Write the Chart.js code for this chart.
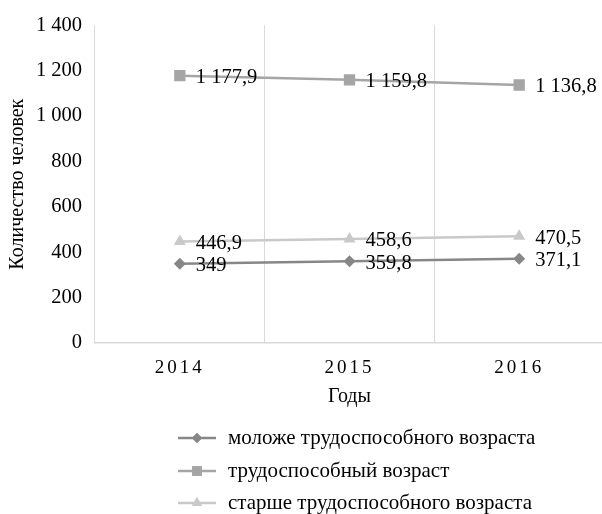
<!DOCTYPE html>
<html>
<head>
<meta charset="utf-8">
<script src="https://cdn.jsdelivr.net/npm/chart.js@4"></script>
<style>
  html, body { margin: 0; padding: 0; background: #fff; overflow: hidden; width: 602px; height: 514px; }
  #wrap { width: 612px; height: 514px; }
</style>
</head>
<body>
<div id="wrap"><canvas id="chart"></canvas></div>
<script>
const years = ['2014', '2015', '2016'];
const seriesNames = ['моложе трудоспособного возраста', 'трудоспособный возраст', 'старше трудоспособного возраста'];
const youngValues = [349, 359.8, 371.1];
const workingValues = [1177.9, 1159.8, 1136.8];
const olderValues = [446.9, 458.6, 470.5];
const yTicks = [0, 200, 400, 600, 800, 1000, 1200, 1400];

const FONT = '"Liberation Serif", "Times New Roman", serif';

// number format: "1 177,9"
function fmt(v) {
    const parts = String(v).split('.');
    const int = parts[0].replace(/\B(?=(\d{3})+(?!\d))/g, ' ');
    return parts.length > 1 ? int + ',' + parts[1] : int;
}

// data labels to the right of each point
const dataLabels = {
    id: 'dataLabels',
    afterDatasetsDraw(chart) {
        const ctx = chart.ctx;
        ctx.save();
        ctx.font = '20.5px ' + FONT;
        ctx.fillStyle = '#000';
        ctx.textAlign = 'left';
        ctx.textBaseline = 'middle';
        chart.data.datasets.forEach((ds, i) => {
            chart.getDatasetMeta(i).data.forEach((pt, j) => {
                ctx.fillText(fmt(ds.data[j]), pt.x + 16, pt.y + 2);
            });
        });
        ctx.restore();
    }
};

// legend at the bottom: line + marker, one per row
const bottomLegend = {
    id: 'bottomLegend',
    afterDraw(chart) {
        const ctx = chart.ctx;
        const rows = [438, 471, 503];
        ctx.save();
        chart.data.datasets.forEach((ds, i) => {
            const y = rows[i];
            ctx.strokeStyle = ds.borderColor;
            ctx.lineWidth = ds.borderWidth;
            ctx.beginPath();
            ctx.moveTo(178, y);
            ctx.lineTo(216, y);
            ctx.stroke();
            ctx.fillStyle = ds.pointBackgroundColor;
            Chart.helpers.drawPoint(ctx, {
                pointStyle: ds.pointStyle, radius: ds.pointRadius * 0.85, rotation: 0, borderWidth: 0
            }, 197, y);
            ctx.fill();
            ctx.fillStyle = '#000';
            ctx.font = '21px ' + FONT;
            ctx.textAlign = 'left';
            ctx.textBaseline = 'middle';
            ctx.fillText(ds.label, 228, y);
        });
        ctx.restore();
    }
};

// spaced-out year labels
const spacedTicks = {
    id: 'spacedTicks',
    afterLayout(chart) {
        const sc = chart.scales.x;
        if (sc._spaced) return;
        const orig = sc.drawLabels;
        sc.drawLabels = function (area) {
            this.ctx.save();
            this.ctx.letterSpacing = '3px';
            orig.call(this, area);
            this.ctx.restore();
        };
        sc._spaced = true;
    }
};

new Chart(document.getElementById('chart'), {
    type: 'line',
    data: {
        labels: years,
        datasets: [
            {
                label: seriesNames[0], data: youngValues,
                borderColor: '#878787', backgroundColor: '#878787', pointBackgroundColor: '#878787',
                borderWidth: 2.5, pointStyle: 'rectRot', pointRadius: 6, pointBorderWidth: 0
            },
            {
                label: seriesNames[1], data: workingValues,
                borderColor: '#a5a5a5', backgroundColor: '#a5a5a5', pointBackgroundColor: '#a5a5a5',
                borderWidth: 2.5, pointStyle: 'rect', pointRadius: 8, pointBorderWidth: 0
            },
            {
                label: seriesNames[2], data: olderValues,
                borderColor: '#c9c9c9', backgroundColor: '#c9c9c9', pointBackgroundColor: '#c9c9c9',
                borderWidth: 2.5, pointStyle: 'triangle', pointRadius: 7, pointBorderWidth: 0
            }
        ]
    },
    options: {
        responsive: true,
        maintainAspectRatio: false,
        animation: false,
        layout: { padding: { top: 25, right: 0, bottom: 101, left: 0 } },
        plugins: {
            legend: { display: false },
            tooltip: { enabled: false }
        },
        scales: {
            x: {
                offset: true,
                grid: { color: '#d9d9d9', lineWidth: 1, drawTicks: false, offset: true },
                border: { color: '#d9d9d9', width: 1.5 },
                ticks: { color: '#000', font: { family: FONT, size: 19 }, padding: 14 },
                title: { display: true, text: 'Годы', color: '#000', font: { family: FONT, size: 20 }, padding: { top: 5 } },
                afterFit(scale) { scale.height = 70; }
            },
            y: {
                min: 0, max: 1400,
                afterBuildTicks(scale) { scale.ticks = yTicks.map(v => ({ value: v })); },
                grid: { display: false, drawTicks: false },
                border: { display: false },
                ticks: { color: '#000', font: { family: FONT, size: 20.5 }, padding: 13, callback: v => fmt(v) },
                title: { display: true, text: 'Количество человек', color: '#000', font: { family: FONT, size: 20 }, padding: { top: 6, bottom: 0 } },
                afterFit(scale) { scale.width = 95; }
            }
        }
    },
    plugins: [dataLabels, bottomLegend, spacedTicks]
});
</script>
</body>
</html>
